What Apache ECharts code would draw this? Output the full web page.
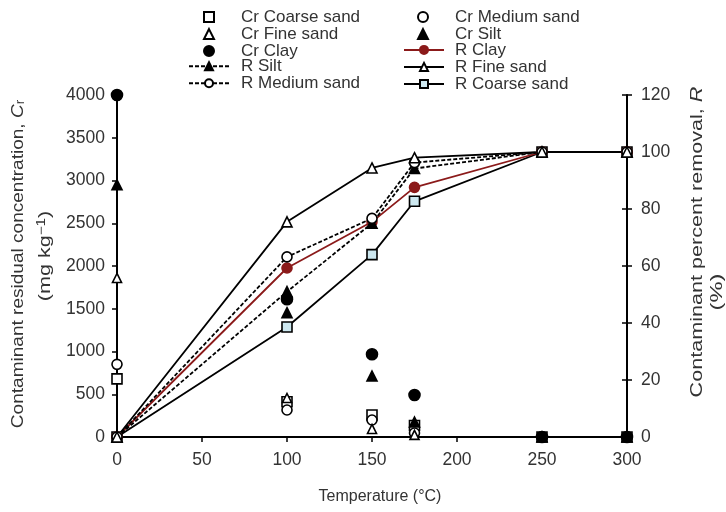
<!DOCTYPE html>
<html>
<head>
<meta charset="utf-8">
<script src="https://cdn.jsdelivr.net/npm/echarts@6/dist/echarts.min.js"></script>
<style>html,body{margin:0;padding:0;background:#fff}#c{width:726px;height:512px}</style>
</head>
<body>
<div id="c"></div>
<script>
// Temperatures (°C)
var temps = [0, 100, 150, 175, 250, 300];
// Residual concentration Cr (mg/kg) - left axis
var crCoarse = [680, 413, 257, 135, 0, 0];
var crMedium = [850, 316, 199, 47, 0, 0];
var crFine = [1860, 456, 94, 25, 0, 0];
var crSilt = [2950, 1454, 713, 175, 0, 0];
var crClay = [4000, 1611, 967, 491, 0, 0];
// Percent removal R (%) - right axis
var rSilt = [0, 51, 75, 94.2, 100, 100];
var rMedium = [0, 63.2, 76.7, 96.3, 100, 100];
var rClay = [0, 59.3, 75.5, 87.6, 100, 100];
var rFine = [0, 75.5, 94.4, 98, 100, 100];
var rCoarse = [0, 38.6, 64, 82.7, 100, 100];
// Axis ticks
var xTicks = {min: 0, max: 300, interval: 50};
var yLeftTicks = {min: 0, max: 4000, interval: 500};
var yRightTicks = {min: 0, max: 120, interval: 20};

function pairs(xs, ys) { return xs.map(function (x, i) { return [x, ys[i]]; }); }

var FONT = '"Liberation Sans", Arial, Helvetica, sans-serif';
var TXT = '#333';
var chart = echarts.init(document.getElementById('c'), null, {renderer: 'canvas'});

function scatterSeries(name, data, symbol, fill, size) {
  return {
    name: name, type: 'scatter', yAxisIndex: 0, data: pairs(temps, data),
    symbol: symbol, symbolSize: size,
    itemStyle: {color: fill, borderColor: '#000', borderWidth: 1.6, opacity: 1},
    z: 3
  };
}
function lineSeries(name, data, symbol, fill, color, dashed, size) {
  return {
    name: name, type: 'line', yAxisIndex: 1, data: pairs(temps, data),
    symbol: symbol, symbolSize: size, showAllSymbol: true,
    lineStyle: {color: color, width: 1.8, type: dashed ? [4, 2] : 'solid'},
    itemStyle: {color: fill, borderColor: color, borderWidth: 1.6},
    emphasis: {disabled: true},
    z: 2
  };
}

var ROW = 16.4, TOP0 = 8.6;
function legendText(pad) {
  return {fontFamily: FONT, fontSize: 17, color: TXT, lineHeight: ROW, padding: [0, 0, 0, pad]};
}
function legend(left, top, w, pad, names) {
  return {
    orient: 'vertical', left: left, top: top, itemWidth: w, itemHeight: 10, itemGap: 0, padding: 0,
    textStyle: legendText(pad), selectedMode: false, data: names
  };
}
function fmt(v) { return String(v); }

var titleFont = '17px ' + FONT;

var option = {
  animation: false,
  textStyle: {fontFamily: FONT},
  legend: [
    legend(203, TOP0, 10, 22, ['Cr Coarse sand', 'Cr Fine sand', 'Cr Clay']),
    legend(188, TOP0 + 3 * ROW, 40, 7, ['R Silt', 'R Medium sand']),
    legend(417, TOP0, 10, 22, ['Cr Medium sand', 'Cr Silt']),
    legend(403, TOP0 + 2 * ROW, 40, 6, ['R Clay', 'R Fine sand', 'R Coarse sand'])
  ],
  grid: {left: 117, right: 99, top: 95, bottom: 75, containLabel: false},
  xAxis: {
    type: 'value', min: xTicks.min, max: xTicks.max, interval: xTicks.interval,
    axisLine: {lineStyle: {color: '#000', width: 2}, onZero: false},
    axisTick: {show: true, length: 5, lineStyle: {color: '#000', width: 1.5}},
    axisLabel: {fontSize: 17.5, color: TXT, margin: 14, fontFamily: FONT, formatter: fmt},
    splitLine: {show: false}
  },
  yAxis: [
    {
      type: 'value', position: 'left', min: yLeftTicks.min, max: yLeftTicks.max, interval: yLeftTicks.interval,
      axisLine: {show: true, lineStyle: {color: '#000', width: 2}},
      axisTick: {show: true, length: 5, lineStyle: {color: '#000', width: 1.5}},
      axisLabel: {fontSize: 17.5, color: TXT, margin: 12, fontFamily: FONT, formatter: fmt},
      splitLine: {show: false}
    },
    {
      type: 'value', position: 'right', min: yRightTicks.min, max: yRightTicks.max, interval: yRightTicks.interval,
      axisLine: {show: true, lineStyle: {color: '#000', width: 2}},
      axisTick: {show: true, length: 5, lineStyle: {color: '#000', width: 1.5}},
      axisLabel: {fontSize: 17.5, color: TXT, margin: 14, fontFamily: FONT, formatter: fmt},
      splitLine: {show: false}
    },
    {
      type: 'value', position: 'right', min: yRightTicks.min, max: yRightTicks.max, interval: yRightTicks.interval,
      axisLine: {show: false},
      axisTick: {show: true, inside: true, length: 5, lineStyle: {color: '#000', width: 1.5}},
      axisLabel: {show: false},
      splitLine: {show: false}
    }
  ],
  graphic: [
    {
      type: 'text', x: 18, y: 264, rotation: Math.PI / 2, scaleX: 1.12,
      style: {
        text: 'Contaminant residual concentration, {i|C}{sub|r}',
        textAlign: 'center', textVerticalAlign: 'middle',
        font: titleFont, fill: TXT,
        rich: {
          i: {fontStyle: 'italic', fontSize: 17, fontFamily: FONT, color: TXT},
          sub: {fontSize: 12, fontFamily: FONT, color: TXT, verticalAlign: 'bottom', padding: [6, 0, 0, 0]}
        }
      }
    },
    {
      type: 'text', x: 45, y: 256, rotation: Math.PI / 2, scaleX: 1.27,
      style: {
        text: '(mg kg{sup|\u22121})',
        textAlign: 'center', textVerticalAlign: 'middle',
        font: titleFont, fill: TXT,
        rich: {sup: {fontSize: 12, fontFamily: FONT, color: TXT, verticalAlign: 'top', padding: [0, 0, 6, 0]}}
      }
    },
    {
      type: 'text', x: 697, y: 242, rotation: Math.PI / 2, scaleX: 1.27,
      style: {
        text: 'Contaminant percent removal, {i|R}',
        textAlign: 'center', textVerticalAlign: 'middle',
        font: titleFont, fill: TXT,
        rich: {i: {fontStyle: 'italic', fontSize: 17, fontFamily: FONT, color: TXT}}
      }
    },
    {
      type: 'text', x: 717, y: 292, rotation: Math.PI / 2, scaleX: 1.4,
      style: {text: '(%)', textAlign: 'center', textVerticalAlign: 'middle', font: titleFont, fill: TXT}
    },
    {
      type: 'text', x: 380, y: 497,
      style: {text: 'Temperature (\u00B0C)', textAlign: 'center', textVerticalAlign: 'middle', font: '16px ' + FONT, fill: TXT}
    }
  ],
  series: [
    lineSeries('R Coarse sand', rCoarse, 'rect', '#cde8f0', '#000', false, 10),
    lineSeries('R Clay', rClay, 'circle', '#8b1a1a', '#8b1a1a', false, 10),
    lineSeries('R Silt', rSilt, 'triangle', '#000', '#000', true, 10),
    lineSeries('R Medium sand', rMedium, 'circle', '#fff', '#000', true, 10),
    lineSeries('R Fine sand', rFine, 'triangle', '#fff', '#000', false, 10),
    scatterSeries('Cr Coarse sand', crCoarse, 'rect', '#fff', 10),
    scatterSeries('Cr Medium sand', crMedium, 'circle', '#fff', 10),
    scatterSeries('Cr Fine sand', crFine, 'triangle', '#fff', 9),
    scatterSeries('Cr Silt', crSilt, 'triangle', '#000', 10),
    scatterSeries('Cr Clay', crClay, 'circle', '#000', 11)
  ]
};
chart.setOption(option);
</script>
</body>
</html>
